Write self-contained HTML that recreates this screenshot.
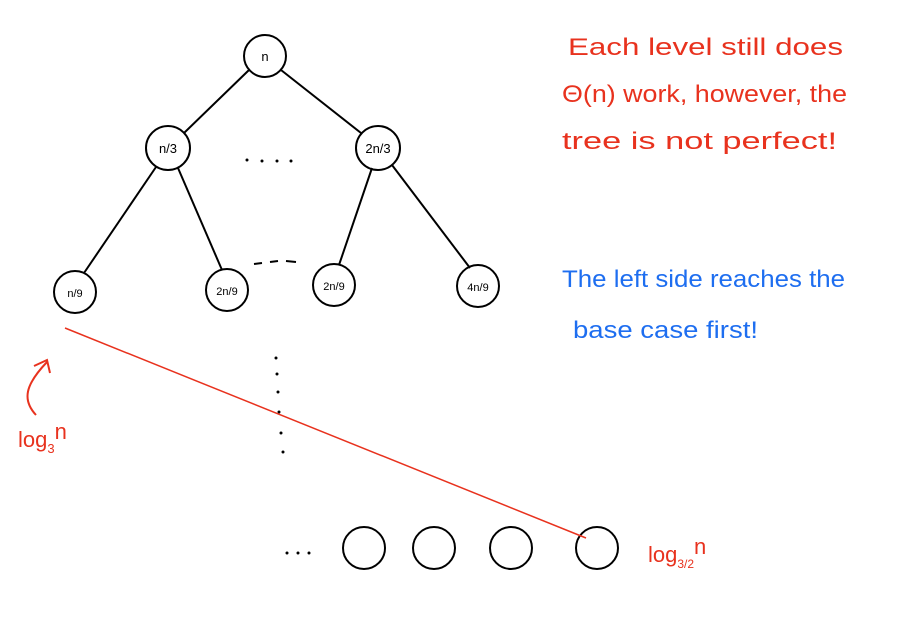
<!DOCTYPE html>
<html><head><meta charset="utf-8"><style>
html,body{margin:0;padding:0;background:#fff;width:899px;height:634px;overflow:hidden}
svg{display:block}
text{font-family:"Liberation Sans",sans-serif}
</style></head><body>
<svg width="899" height="634" viewBox="0 0 899 634" xmlns="http://www.w3.org/2000/svg">
<g stroke="#000" stroke-width="2" fill="none">
<circle cx="265" cy="56" r="21"/>
<circle cx="168" cy="148" r="22"/>
<circle cx="378" cy="148" r="22"/>
<circle cx="75" cy="292" r="21"/>
<circle cx="227" cy="290" r="21"/>
<circle cx="334" cy="285" r="21"/>
<circle cx="478" cy="286" r="21"/>
<circle cx="364" cy="548" r="21"/>
<circle cx="434" cy="548" r="21"/>
<circle cx="511" cy="548" r="21"/>
<circle cx="597" cy="548" r="21"/>
<line x1="249" y1="70" x2="184" y2="133"/>
<line x1="281" y1="70" x2="361" y2="133"/>
<line x1="156" y1="167" x2="84" y2="273"/>
<line x1="178" y1="168" x2="222" y2="270"/>
<line x1="372" y1="168" x2="339" y2="265"/>
<line x1="392" y1="165" x2="470" y2="268"/>
<path d="M254 264 L262 263 M270 262 L278 261 M286 261 L296 262"/>
</g>
<g fill="#000">
<circle cx="247" cy="160" r="1.5"/><circle cx="262" cy="161" r="1.5"/><circle cx="277" cy="161" r="1.5"/><circle cx="291" cy="161" r="1.5"/>
<circle cx="276" cy="358" r="1.5"/><circle cx="277" cy="374" r="1.5"/><circle cx="278" cy="392" r="1.5"/><circle cx="279" cy="412" r="1.5"/><circle cx="281" cy="433" r="1.5"/><circle cx="283" cy="452" r="1.5"/>
<circle cx="287" cy="553" r="1.5"/><circle cx="298" cy="553" r="1.5"/><circle cx="309" cy="553" r="1.5"/>
</g>
<g font-size="13" text-anchor="middle" fill="#000">
<text x="265" y="61">n</text>
<text x="168" y="153">n/3</text>
<text x="378" y="153">2n/3</text>
<text x="75" y="297" font-size="11">n/9</text>
<text x="227" y="295" font-size="11">2n/9</text>
<text x="334" y="290" font-size="11">2n/9</text>
<text x="478" y="291" font-size="11">4n/9</text>
</g>
<line x1="65" y1="328" x2="586" y2="538" stroke="#e8321e" stroke-width="1.5"/>
<path d="M36 415 C22 400 25 385 47 362 M34 366 L47 360 L50 373" stroke="#e8321e" stroke-width="2" fill="none"/>
<g fill="#e8321e" font-size="24">
<text x="18" y="447" font-size="22">log<tspan font-size="13" dy="6">3</tspan><tspan dy="-14">n</tspan></text>
<text x="648" y="562" font-size="22">log<tspan font-size="12" dy="6">3/2</tspan><tspan dy="-14">n</tspan></text>
<text x="568" y="55" textLength="275" lengthAdjust="spacingAndGlyphs">Each level still does</text>
<text x="562" y="102" textLength="285" lengthAdjust="spacingAndGlyphs">Θ(n) work, however, the</text>
<text x="562" y="149" textLength="275" lengthAdjust="spacingAndGlyphs">tree is not perfect!</text>
</g>
<g fill="#1e6ef0" font-size="24">
<text x="562" y="287" textLength="283" lengthAdjust="spacingAndGlyphs">The left side reaches the</text>
<text x="573" y="338" textLength="185" lengthAdjust="spacingAndGlyphs">base case first!</text>
</g>
</svg>
</body></html>
